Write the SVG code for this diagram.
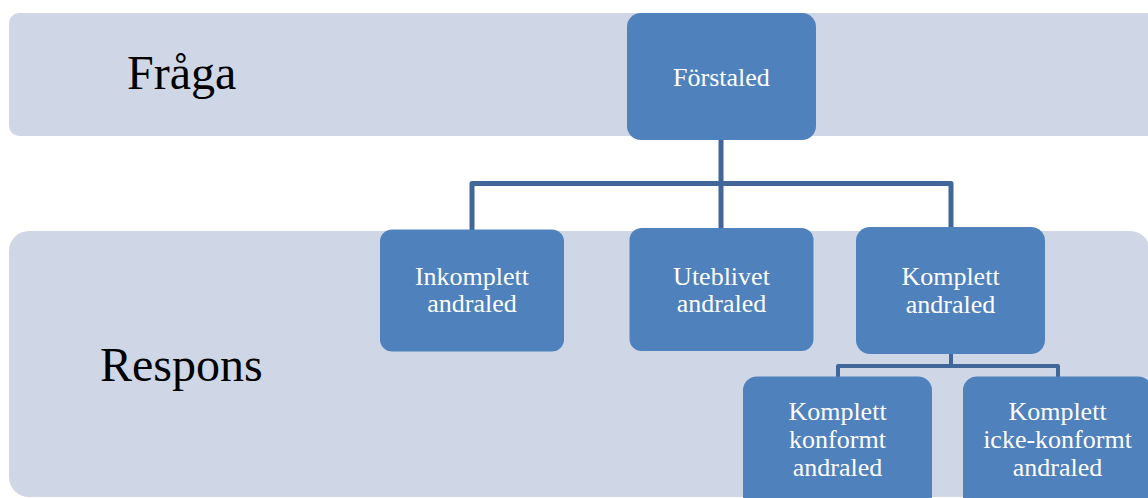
<svg xmlns="http://www.w3.org/2000/svg" width="1148" height="498" viewBox="0 0 1148 498">
<style>
.band{fill:#cfd7e7}
.node{fill:#4f81bd}
.lbl{font-family:"Liberation Serif","Times New Roman",serif;font-size:26px;fill:#ffffff;text-anchor:middle}
.big{font-family:"Liberation Serif","Times New Roman",serif;font-size:48px;fill:#000000}
.conn{fill:none;stroke:#41679a;stroke-width:5;stroke-linejoin:round}
.conn2{fill:none;stroke:#41679a;stroke-width:4;stroke-linejoin:round}
</style>
<g id="band-fraga">
<rect class="band" x="9" y="13" width="1160" height="123" rx="10"/>
<text class="big" x="127" y="89">Fråga</text>
</g>
<g id="band-respons">
<rect class="band" x="9" y="231" width="1141" height="266" rx="20"/>
<text class="big" x="100" y="381">Respons</text>
</g>
<g id="connectors">
<path class="conn" d="M721 140 V229 M472 231 V183.5 H951 V228"/>
<path class="conn2" d="M951 353 V366 M838 377 V366 H1058 V377"/>
</g>
<g id="forstaled">
<rect class="node" x="627" y="13" width="189" height="127" rx="14"/>
<text class="lbl" x="721.5" y="86">Förstaled</text>
</g>
<g id="inkomplett">
<rect class="node" x="380" y="229.5" width="184" height="122" rx="12"/>
<text class="lbl" x="472" y="285">Inkomplett</text>
<text class="lbl" x="472" y="312">andraled</text>
</g>
<g id="uteblivet">
<rect class="node" x="629.5" y="228" width="184" height="123" rx="12"/>
<text class="lbl" x="721.5" y="285">Uteblivet</text>
<text class="lbl" x="721.5" y="312">andraled</text>
</g>
<g id="komplett">
<rect class="node" x="856" y="227" width="189" height="127" rx="14"/>
<text class="lbl" x="950.5" y="285">Komplett</text>
<text class="lbl" x="950.5" y="312.5">andraled</text>
</g>
<g id="komplett-konformt">
<rect class="node" x="743" y="376.5" width="189" height="140" rx="14"/>
<text class="lbl" x="837.5" y="420">Komplett</text>
<text class="lbl" x="837.5" y="448">konformt</text>
<text class="lbl" x="837.5" y="476">andraled</text>
</g>
<g id="komplett-icke-konformt">
<rect class="node" x="963" y="376.5" width="189" height="140" rx="14"/>
<text class="lbl" x="1057.5" y="420">Komplett</text>
<text class="lbl" x="1057.5" y="448">icke-konformt</text>
<text class="lbl" x="1057.5" y="476">andraled</text>
</g>
</svg>
